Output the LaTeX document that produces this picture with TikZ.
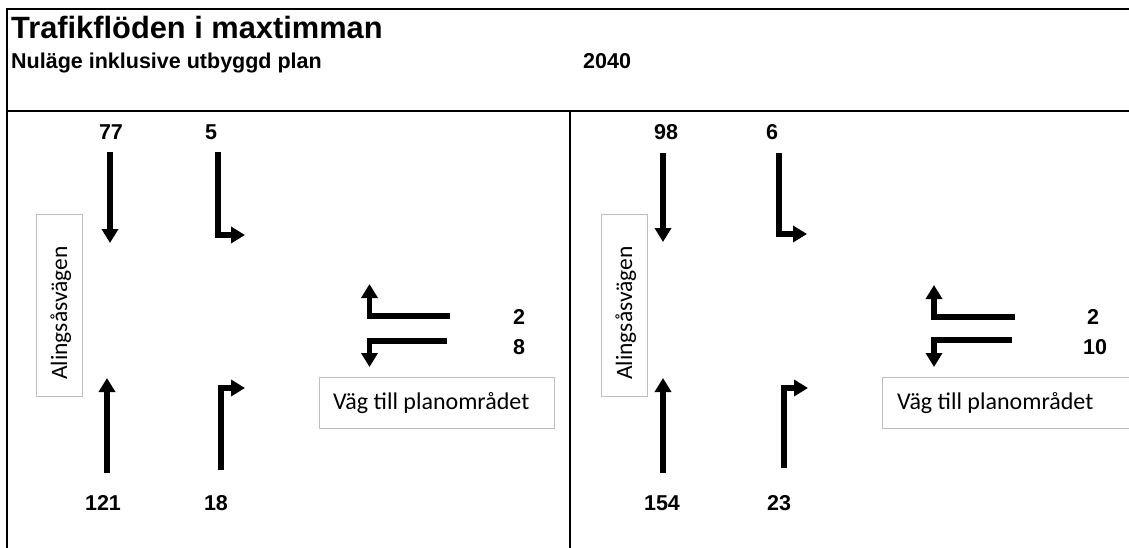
\documentclass[tikz,border=0pt]{standalone}
\usepackage{fontspec}
\setmainfont{Liberation Sans}
\newfontfamily\labelfont{Carlito}
\usetikzlibrary{arrows.meta}
\begin{document}
\begin{tikzpicture}[x=1pt,y=-1pt,
  frame/.style={line width=2.5pt, line join=miter},
  flow/.style={line width=5.5pt, line join=miter, -{Triangle[width=16pt,length=14pt]}},
  count/.style={font=\fontsize{21.5}{25}\selectfont\bfseries, anchor=base, inner sep=0pt},
  heading/.style={anchor=base west, inner sep=0pt},
  roadbox/.style={draw=black!25, line width=1pt},
  roadname/.style={font=\labelfont\fontsize{23.5}{27}\selectfont, inner sep=0pt, anchor=base west}]
\useasboundingbox (0,0) rectangle (1129,547);
\fill[white] (0,0) rectangle (1129,547);

% table frame
\draw[frame] (1140,9) -| (7,550);
\draw[frame] (7,111) -- (1140,111);
\draw[frame] (570,111) -- (570,550);

% header
\node[heading, font=\fontsize{30.8}{35}\selectfont\bfseries] (title) at (11,38) {Trafikflöden i maxtimman};
\node[heading, font=\fontsize{21.5}{25}\selectfont\bfseries] (case) at (11,68) {Nuläge inklusive utbyggd plan};
\node[heading, font=\fontsize{21.5}{25}\selectfont\bfseries] (year) at (583,68) {2040};

% ---------- left panel ----------
\draw[roadbox] (36,214) rectangle (82,396);
\node[roadname, rotate=90] (roadA1) at (67,380) {Alingsåsvägen};
\draw[roadbox] (319,377) rectangle (554,428);
\node[roadname, font=\labelfont\fontsize{24}{28}\selectfont] (roadB1) at (333,409) {Väg till planområdet};

\node[count] (n1) at (111,139) {77};
\node[count] (n2) at (211,139) {5};
\node[count] (n3) at (103,510) {121};
\node[count] (n4) at (216,510) {18};
\node[count] (n5) at (519,324) {2};
\node[count] (n6) at (519,354) {8};

\draw[flow] (110,152) -- (110,243);
\draw[flow] (218,152) |- (245,235);
\draw[flow] (107,473) -- (107,378);
\draw[flow] (221,470) |- (245,388);
\draw[flow] (450,316) -| (369.5,284);
\draw[flow] (447,341) -| (369.5,367);

% ---------- right panel ----------
\draw[roadbox] (601,214) rectangle (647,396);
\node[roadname, rotate=90] (roadA2) at (632,380) {Alingsåsvägen};
\draw[roadbox] (882,377) rectangle (1140,428);
\node[roadname, font=\labelfont\fontsize{24}{28}\selectfont] (roadB2) at (897,409) {Väg till planområdet};

\node[count] (m1) at (666,139) {98};
\node[count] (m2) at (772,139) {6};
\node[count] (m3) at (662,510) {154};
\node[count] (m4) at (779,510) {23};
\node[count] (m5) at (1093,324) {2};
\node[count] (m6) at (1095,354) {10};

\draw[flow] (663,153) -- (663,242);
\draw[flow] (779,153) |- (807,234);
\draw[flow] (663,473) -- (663,378);
\draw[flow] (784,468) |- (808,388);
\draw[flow] (1015,317) -| (934,285);
\draw[flow] (1012,340) -| (934,367);
\end{tikzpicture}
\end{document}
